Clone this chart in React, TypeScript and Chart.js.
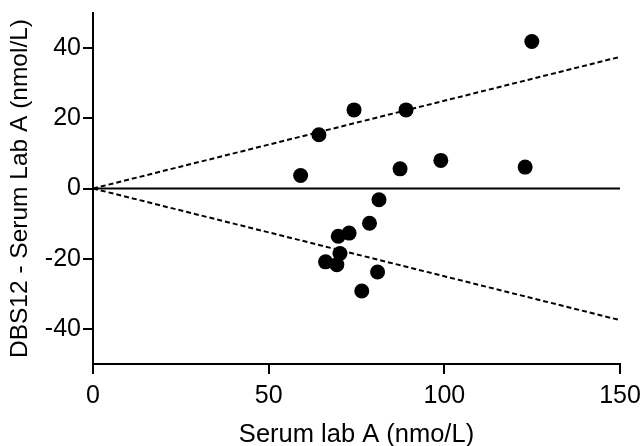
import React, { useEffect, useRef } from 'react';
import { Chart, registerables } from 'chart.js';

Chart.register(...registerables);

const serumLabA = [124.9, 74.3, 89.1, 64.3, 59.1, 87.4, 99.0, 123.0, 81.4, 78.7, 72.9, 69.8, 70.3, 66.2, 69.4, 81.0, 76.5];
const difference = [41.9, 22.4, 22.4, 15.3, 3.7, 5.6, 8.0, 6.1, -3.2, -9.9, -12.7, -13.6, -18.5, -20.9, -21.7, -23.8, -29.2];
const xTicks = [0, 50, 100, 150];
const yTicks = [-40, -20, 0, 20, 40];
const lineX = [0, 150];
const zeroLineY = [0, 0];
const upperLimitY = [0, 37.5];
const lowerLimitY = [0, -37.5];

const FONT = '"Liberation Sans", Arial, sans-serif';

export default function App() {
  const ref = useRef<HTMLCanvasElement | null>(null);

  useEffect(() => {
    if (!ref.current) return;
    const pts = serumLabA.map((x, i) => ({ x, y: difference[i] }));
    const mk = (ys: number[]) => lineX.map((x, i) => ({ x, y: ys[i] }));
    const chart = new Chart(ref.current, {
      type: 'scatter',
      data: {
        datasets: [
          {
            data: mk(zeroLineY) as any,
            showLine: true,
            borderColor: '#000',
            borderWidth: 2,
            pointRadius: 0,
          },
          {
            data: mk(upperLimitY) as any,
            showLine: true,
            borderColor: '#000',
            borderWidth: 2,
            borderDash: [5, 3],
            pointRadius: 0,
          },
          {
            data: mk(lowerLimitY) as any,
            showLine: true,
            borderColor: '#000',
            borderWidth: 2,
            borderDash: [5, 3],
            pointRadius: 0,
          },
          {
            data: pts as any,
            backgroundColor: '#000',
            borderColor: '#000',
            pointRadius: 7.5,
            borderWidth: 0,
          },
        ],
      },
      options: {
        responsive: false,
        animation: false,
        layout: { padding: { top: 13, right: 24, left: 0, bottom: 0 } },
        plugins: { legend: { display: false }, tooltip: { enabled: false } },
        font: { family: FONT },
        scales: {
          x: {
            type: 'linear',
            min: 0,
            max: 150,
            afterBuildTicks: (s: any) => { s.ticks = xTicks.map((v) => ({ value: v })); },
            afterFit: (s: any) => { s.height = 86; s.paddingLeft = 0; s.paddingRight = 0; },
            grid: { display: true, drawOnChartArea: false, drawTicks: true, tickLength: 10, color: '#000', lineWidth: 2 },
            border: { display: true, color: '#000', width: 2 },
            ticks: { color: '#000', font: { family: FONT, size: 25 }, padding: 7, maxRotation: 0 },
            title: { display: true, text: 'Serum lab A (nmo/L)', color: '#000', font: { family: FONT, size: 25.5 }, padding: { top: 0, bottom: 0 } },
          },
          y: {
            type: 'linear',
            min: -50,
            max: 50,
            afterBuildTicks: (s: any) => { s.ticks = yTicks.map((v) => ({ value: v })); },
            afterFit: (s: any) => { s.width = 93; s.paddingTop = 0; s.paddingBottom = 0; },
            grid: { display: true, drawOnChartArea: false, drawTicks: true, tickLength: 10, color: '#000', lineWidth: 2 },
            border: { display: true, color: '#000', width: 2 },
            ticks: { color: '#000', font: { family: FONT, size: 25 }, padding: 2 },
            title: { display: true, text: 'DBS12 - Serum Lab A (nmol/L)', color: '#000', font: { family: FONT, size: 24.5 }, padding: { top: 6, bottom: 0 } },
          },
        },
      },
    });
    return () => chart.destroy();
  }, []);

  return (
    <canvas
      ref={ref}
      width={644}
      height={450}
      style={{ position: 'fixed', left: 0, top: 0, display: 'block', background: '#fff' }}
    />
  );
}
